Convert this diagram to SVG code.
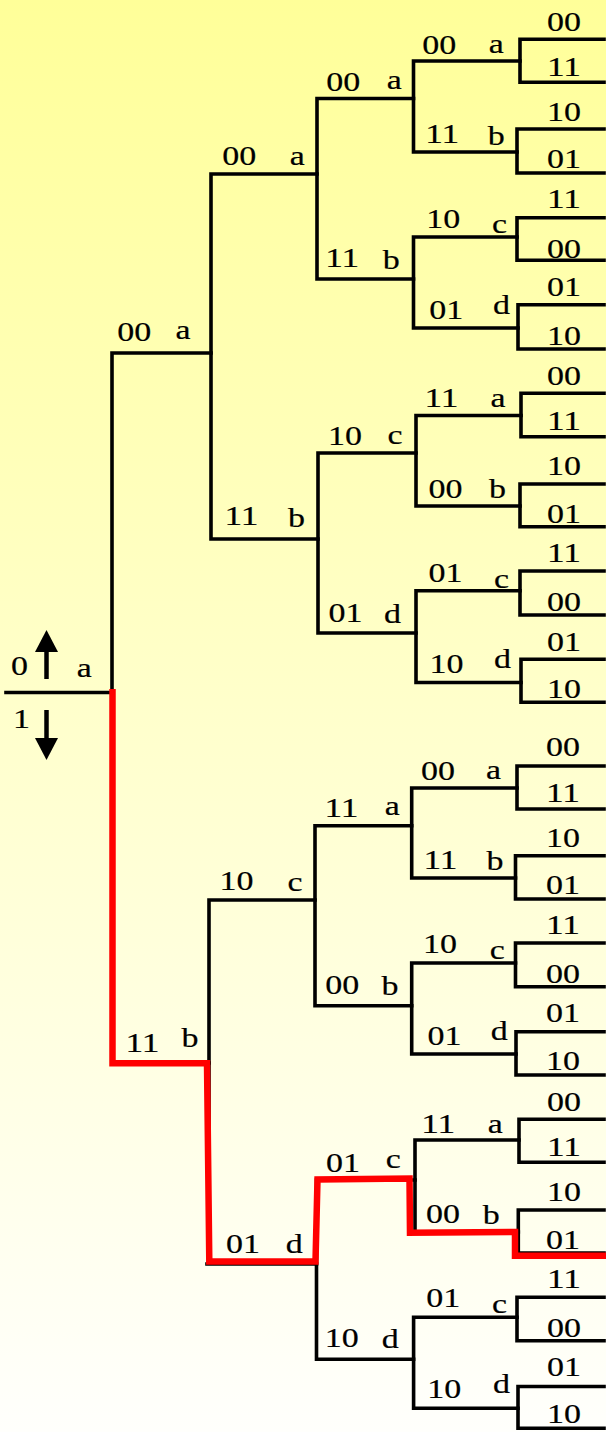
<svg xmlns="http://www.w3.org/2000/svg" width="606" height="1432" viewBox="0 0 606 1432">
  <defs>
    <linearGradient id="bg" x1="0" y1="0" x2="0" y2="1">
      <stop offset="0" stop-color="#FFFF99"/>
      <stop offset="0.5" stop-color="#FFFFCC"/>
      <stop offset="1" stop-color="#FFFFFC"/>
    </linearGradient>
    <style>
      .t { font-family: "Liberation Serif", "Times New Roman", serif; font-size: 27px; fill: #000; stroke: #000; stroke-width: 0.2; }
      .leaf { text-anchor: middle; }
      .wire { fill: none; stroke: #000; stroke-width: 3.6; stroke-linecap: square; stroke-linejoin: miter; }
      .path { fill: none; stroke: #FF0000; stroke-width: 6.5; stroke-linecap: butt; stroke-linejoin: miter; }
      .arrow { fill: #000; }
      .shaft { stroke: #000; stroke-width: 4.5; }
    </style>
  </defs>

  <rect x="0" y="0" width="606" height="1432" fill="url(#bg)"/>

  <!-- tree branches -->
  <g id="connectors">
    <path class="wire" d="M6 692.5 H112 M112 353 V1063 M112 353 H211 M112 1063 H209"/>
    <!-- upper half -->
    <path class="wire" d="M211 174 V539 M211 174 H317 M211 539 H318"/>
    <path class="wire" d="M317 98.5 V279 M317 98.5 H413.5 M317 279 H413.5"/>
    <path class="wire" d="M413.5 61 V152 M413.5 61 H520 M413.5 152 H517"/>
    <path class="wire" d="M520 39.3 V82.3 H604 M520 39.3 H604 M517 129 V173 H604 M517 129 H604"/>
    <path class="wire" d="M413.5 237 V328 M413.5 237 H517 M413.5 328 H518"/>
    <path class="wire" d="M517 217.7 V260.3 H604 M517 217.7 H604 M518 304.7 V349 H604 M518 304.7 H604"/>
    <path class="wire" d="M318 453 V633 M318 453 H416 M318 633 H416"/>
    <path class="wire" d="M416 415.5 V506 M416 415.5 H521 M416 506 H520"/>
    <path class="wire" d="M521 393.3 V436.7 H604 M521 393.3 H604 M520 484 V526.7 H604 M520 484 H604"/>
    <path class="wire" d="M416 590.7 V682.5 M416 590.7 H520 M416 682.5 H521"/>
    <path class="wire" d="M520 571 V615 H604 M520 571 H604 M521 659.3 V702.3 H604 M521 659.3 H604"/>
    <!-- lower half -->
    <path class="wire" d="M209 900 V1264 M209 900 H315 M207 1264 H316.5"/>
    <path class="wire" d="M315 825.7 V1005.7 M315 825.7 H411.7 M315 1005.7 H411.7"/>
    <path class="wire" d="M411.7 788 V878 M411.7 788 H517 M411.7 878 H515.5"/>
    <path class="wire" d="M517 766 V809 H604 M517 766 H604 M515.5 855.7 V899 H604 M515.5 855.7 H604"/>
    <path class="wire" d="M411.7 963 V1054 M411.7 963 H515.5 M411.7 1054 H516"/>
    <path class="wire" d="M515.5 943 V986.7 H604 M515.5 943 H604 M516 1031.7 V1075 H604 M516 1031.7 H604"/>
    <path class="wire" d="M316.5 1180 V1359.3 M316.5 1180 H415 M316.5 1359.3 H413.6"/>
    <path class="wire" d="M415 1140 V1232 M415 1140 H519 M415 1232 H518.3"/>
    <path class="wire" d="M519 1119.3 V1162.3 H604 M519 1119.3 H604 M518.3 1210 V1253 H604 M518.3 1210 H604"/>
    <path class="wire" d="M413.6 1317.3 V1408.3 M413.6 1317.3 H517 M413.6 1408.3 H518"/>
    <path class="wire" d="M517 1297.3 V1340.7 H604 M517 1297.3 H604 M518 1386.5 V1428.3 H604 M518 1386.5 H604"/>
  </g>

  <!-- highlighted decoded path -->
  <g id="survivor">
    <path class="path" d="M112.5 689 V1063.3 H207 L209.3 1261.5 H315.5 L317.5 1179.5 L409.5 1178.5 L410 1232.7 L515 1232 V1255.7 H606"/>
  </g>

  <!-- input bit legend at the root -->
  <g id="root">
    <line class="shaft" x1="46.5" y1="679" x2="46.5" y2="648"/>
    <polygon class="arrow" points="35,652 58,652 46.5,630"/>
    <line class="shaft" x1="46.5" y1="710" x2="46.5" y2="741"/>
    <polygon class="arrow" points="35,738 58,738 46.5,760"/>
    <text class="t" x="10.9" y="675" textLength="17" lengthAdjust="spacingAndGlyphs">0</text>
    <text class="t" x="76.7" y="676.5" textLength="15" lengthAdjust="spacingAndGlyphs">a</text>
    <text class="t" x="12.9" y="728" textLength="17" lengthAdjust="spacingAndGlyphs">1</text>
  </g>

  <!-- depth 1 -->
  <g id="n0">
    <text class="t" x="117.2" y="341" textLength="34" lengthAdjust="spacingAndGlyphs">00</text>
    <text class="t" x="175.4" y="338.5" textLength="15" lengthAdjust="spacingAndGlyphs">a</text>
  </g>
  <g id="n1">
    <text class="t" x="125.5" y="1052" textLength="34" lengthAdjust="spacingAndGlyphs">11</text>
    <text class="t" x="181.4" y="1047" textLength="17" lengthAdjust="spacingAndGlyphs">b</text>
  </g>

  <!-- depth 2 -->
  <g id="n00">
    <text class="t" x="222.2" y="165" textLength="34" lengthAdjust="spacingAndGlyphs">00</text>
    <text class="t" x="289.7" y="165" textLength="15" lengthAdjust="spacingAndGlyphs">a</text>
  </g>
  <g id="n01">
    <text class="t" x="224.5" y="525" textLength="34" lengthAdjust="spacingAndGlyphs">11</text>
    <text class="t" x="288" y="527" textLength="17" lengthAdjust="spacingAndGlyphs">b</text>
  </g>
  <g id="n10">
    <text class="t" x="219.5" y="890" textLength="34" lengthAdjust="spacingAndGlyphs">10</text>
    <text class="t" x="287.4" y="890.5" textLength="15" lengthAdjust="spacingAndGlyphs">c</text>
  </g>
  <g id="n11">
    <text class="t" x="225.9" y="1253.3" textLength="34" lengthAdjust="spacingAndGlyphs">01</text>
    <text class="t" x="285.7" y="1253.3" textLength="17" lengthAdjust="spacingAndGlyphs">d</text>
  </g>

  <!-- depth 3 -->
  <g id="n000">
    <text class="t" x="326.2" y="90.5" textLength="34" lengthAdjust="spacingAndGlyphs">00</text>
    <text class="t" x="386.7" y="89" textLength="15" lengthAdjust="spacingAndGlyphs">a</text>
  </g>
  <g id="n001">
    <text class="t" x="325.2" y="266.5" textLength="34" lengthAdjust="spacingAndGlyphs">11</text>
    <text class="t" x="382.7" y="269" textLength="17" lengthAdjust="spacingAndGlyphs">b</text>
  </g>
  <g id="n010">
    <text class="t" x="327.9" y="444.5" textLength="34" lengthAdjust="spacingAndGlyphs">10</text>
    <text class="t" x="387.4" y="443.5" textLength="15" lengthAdjust="spacingAndGlyphs">c</text>
  </g>
  <g id="n011">
    <text class="t" x="328.5" y="621.5" textLength="34" lengthAdjust="spacingAndGlyphs">01</text>
    <text class="t" x="384" y="623" textLength="17" lengthAdjust="spacingAndGlyphs">d</text>
  </g>
  <g id="n100">
    <text class="t" x="324.5" y="816.7" textLength="34" lengthAdjust="spacingAndGlyphs">11</text>
    <text class="t" x="384.7" y="815" textLength="15" lengthAdjust="spacingAndGlyphs">a</text>
  </g>
  <g id="n101">
    <text class="t" x="325.2" y="993.5" textLength="34" lengthAdjust="spacingAndGlyphs">00</text>
    <text class="t" x="381.4" y="995" textLength="17" lengthAdjust="spacingAndGlyphs">b</text>
  </g>
  <g id="n110">
    <text class="t" x="325.9" y="1171.7" textLength="34" lengthAdjust="spacingAndGlyphs">01</text>
    <text class="t" x="385.8" y="1168.3" textLength="15" lengthAdjust="spacingAndGlyphs">c</text>
  </g>
  <g id="n111">
    <text class="t" x="324.8" y="1346.7" textLength="34" lengthAdjust="spacingAndGlyphs">10</text>
    <text class="t" x="381.7" y="1348.3" textLength="17" lengthAdjust="spacingAndGlyphs">d</text>
  </g>

  <!-- depth 4 -->
  <g id="n0000">
    <text class="t" x="422.2" y="53.5" textLength="34" lengthAdjust="spacingAndGlyphs">00</text>
    <text class="t" x="488.7" y="53" textLength="15" lengthAdjust="spacingAndGlyphs">a</text>
  </g>
  <g id="n0001">
    <text class="t" x="425.2" y="143" textLength="34" lengthAdjust="spacingAndGlyphs">11</text>
    <text class="t" x="487.7" y="145" textLength="17" lengthAdjust="spacingAndGlyphs">b</text>
  </g>
  <g id="n0010">
    <text class="t" x="426.2" y="228" textLength="34" lengthAdjust="spacingAndGlyphs">10</text>
    <text class="t" x="492.1" y="233" textLength="15" lengthAdjust="spacingAndGlyphs">c</text>
  </g>
  <g id="n0011">
    <text class="t" x="429.2" y="319" textLength="34" lengthAdjust="spacingAndGlyphs">01</text>
    <text class="t" x="493" y="314" textLength="17" lengthAdjust="spacingAndGlyphs">d</text>
  </g>
  <g id="n0100">
    <text class="t" x="424.5" y="407" textLength="34" lengthAdjust="spacingAndGlyphs">11</text>
    <text class="t" x="490.4" y="406.5" textLength="15" lengthAdjust="spacingAndGlyphs">a</text>
  </g>
  <g id="n0101">
    <text class="t" x="428.5" y="498" textLength="34" lengthAdjust="spacingAndGlyphs">00</text>
    <text class="t" x="489" y="498" textLength="17" lengthAdjust="spacingAndGlyphs">b</text>
  </g>
  <g id="n0110">
    <text class="t" x="428.5" y="581.5" textLength="34" lengthAdjust="spacingAndGlyphs">01</text>
    <text class="t" x="494.1" y="587.5" textLength="15" lengthAdjust="spacingAndGlyphs">c</text>
  </g>
  <g id="n0111">
    <text class="t" x="429.5" y="673.3" textLength="34" lengthAdjust="spacingAndGlyphs">10</text>
    <text class="t" x="494" y="667.5" textLength="17" lengthAdjust="spacingAndGlyphs">d</text>
  </g>
  <g id="n1000">
    <text class="t" x="420.9" y="780" textLength="34" lengthAdjust="spacingAndGlyphs">00</text>
    <text class="t" x="486" y="779" textLength="15" lengthAdjust="spacingAndGlyphs">a</text>
  </g>
  <g id="n1001">
    <text class="t" x="423.5" y="869.3" textLength="34" lengthAdjust="spacingAndGlyphs">11</text>
    <text class="t" x="486.4" y="870" textLength="17" lengthAdjust="spacingAndGlyphs">b</text>
  </g>
  <g id="n1010">
    <text class="t" x="422.9" y="953.3" textLength="34" lengthAdjust="spacingAndGlyphs">10</text>
    <text class="t" x="489.8" y="959.3" textLength="15" lengthAdjust="spacingAndGlyphs">c</text>
  </g>
  <g id="n1011">
    <text class="t" x="427.5" y="1045" textLength="34" lengthAdjust="spacingAndGlyphs">01</text>
    <text class="t" x="490.7" y="1039.5" textLength="17" lengthAdjust="spacingAndGlyphs">d</text>
  </g>
  <g id="n1100">
    <text class="t" x="421.2" y="1133.3" textLength="34" lengthAdjust="spacingAndGlyphs">11</text>
    <text class="t" x="487.7" y="1132.7" textLength="15" lengthAdjust="spacingAndGlyphs">a</text>
  </g>
  <g id="n1101">
    <text class="t" x="425.9" y="1223.3" textLength="34" lengthAdjust="spacingAndGlyphs">00</text>
    <text class="t" x="482.7" y="1223.5" textLength="17" lengthAdjust="spacingAndGlyphs">b</text>
  </g>
  <g id="n1110">
    <text class="t" x="426.2" y="1306.7" textLength="34" lengthAdjust="spacingAndGlyphs">01</text>
    <text class="t" x="492.1" y="1313.3" textLength="15" lengthAdjust="spacingAndGlyphs">c</text>
  </g>
  <g id="n1111">
    <text class="t" x="427.2" y="1398.3" textLength="34" lengthAdjust="spacingAndGlyphs">10</text>
    <text class="t" x="493" y="1393.3" textLength="17" lengthAdjust="spacingAndGlyphs">d</text>
  </g>

  <!-- depth 5: output pairs on the last branches -->
  <g id="leaves" class="t leaf">
    <text x="564" y="31" textLength="34" lengthAdjust="spacingAndGlyphs">00</text>
    <text x="564" y="76" textLength="34" lengthAdjust="spacingAndGlyphs">11</text>
    <text x="564" y="120.5" textLength="34" lengthAdjust="spacingAndGlyphs">10</text>
    <text x="564" y="168" textLength="34" lengthAdjust="spacingAndGlyphs">01</text>
    <text x="564" y="208" textLength="34" lengthAdjust="spacingAndGlyphs">11</text>
    <text x="564" y="258" textLength="34" lengthAdjust="spacingAndGlyphs">00</text>
    <text x="564" y="296" textLength="34" lengthAdjust="spacingAndGlyphs">01</text>
    <text x="564" y="345" textLength="34" lengthAdjust="spacingAndGlyphs">10</text>
    <text x="564" y="385" textLength="34" lengthAdjust="spacingAndGlyphs">00</text>
    <text x="564" y="430" textLength="34" lengthAdjust="spacingAndGlyphs">11</text>
    <text x="564" y="474.5" textLength="34" lengthAdjust="spacingAndGlyphs">10</text>
    <text x="564" y="522.5" textLength="34" lengthAdjust="spacingAndGlyphs">01</text>
    <text x="564" y="562" textLength="34" lengthAdjust="spacingAndGlyphs">11</text>
    <text x="564" y="610.5" textLength="34" lengthAdjust="spacingAndGlyphs">00</text>
    <text x="564" y="650.5" textLength="34" lengthAdjust="spacingAndGlyphs">01</text>
    <text x="564" y="698.3" textLength="34" lengthAdjust="spacingAndGlyphs">10</text>
    <text x="563" y="756" textLength="34" lengthAdjust="spacingAndGlyphs">00</text>
    <text x="563" y="802.3" textLength="34" lengthAdjust="spacingAndGlyphs">11</text>
    <text x="563" y="846.7" textLength="34" lengthAdjust="spacingAndGlyphs">10</text>
    <text x="563" y="894.3" textLength="34" lengthAdjust="spacingAndGlyphs">01</text>
    <text x="563" y="934" textLength="34" lengthAdjust="spacingAndGlyphs">11</text>
    <text x="563" y="982.7" textLength="34" lengthAdjust="spacingAndGlyphs">00</text>
    <text x="563" y="1021.7" textLength="34" lengthAdjust="spacingAndGlyphs">01</text>
    <text x="563" y="1070" textLength="34" lengthAdjust="spacingAndGlyphs">10</text>
    <text x="564" y="1110.7" textLength="34" lengthAdjust="spacingAndGlyphs">00</text>
    <text x="564" y="1156" textLength="34" lengthAdjust="spacingAndGlyphs">11</text>
    <text x="564" y="1200.5" textLength="34" lengthAdjust="spacingAndGlyphs">10</text>
    <text x="563" y="1249.3" textLength="34" lengthAdjust="spacingAndGlyphs">01</text>
    <text x="564" y="1288.3" textLength="34" lengthAdjust="spacingAndGlyphs">11</text>
    <text x="564" y="1337.3" textLength="34" lengthAdjust="spacingAndGlyphs">00</text>
    <text x="564" y="1376" textLength="34" lengthAdjust="spacingAndGlyphs">01</text>
    <text x="564" y="1423.3" textLength="34" lengthAdjust="spacingAndGlyphs">10</text>
  </g>
</svg>
